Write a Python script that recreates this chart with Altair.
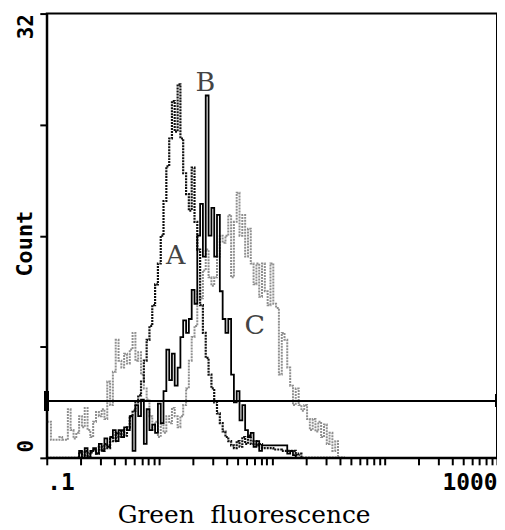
import altair as alt
import pandas as pd

# Histogram channels (green fluorescence, log spaced)
fluor = [
    0.1, 0.106, 0.112, 0.119, 0.126, 0.133, 0.141, 0.150, 0.158, 0.168,
    0.178, 0.188, 0.200, 0.211, 0.224, 0.237, 0.251, 0.266, 0.282, 0.299,
    0.316, 0.335, 0.355, 0.376, 0.398, 0.422, 0.447, 0.473, 0.501, 0.531,
    0.562, 0.596, 0.631, 0.668, 0.708, 0.750, 0.794, 0.841, 0.891, 0.944,
    1.00, 1.06, 1.12, 1.19, 1.26, 1.33, 1.41, 1.50, 1.58, 1.68,
    1.78, 1.88, 2.00, 2.11, 2.24, 2.37, 2.51, 2.66, 2.82, 2.99,
    3.16, 3.35, 3.55, 3.76, 3.98, 4.22, 4.47, 4.73, 5.01, 5.31,
    5.62, 5.96, 6.31, 6.68, 7.08, 7.50, 7.94, 8.41, 8.91, 9.44,
    10.0, 10.6, 11.2, 11.9, 12.6, 13.3, 14.1, 15.0, 15.8, 16.8,
    17.8, 18.8, 20.0, 21.1, 22.4, 23.7, 25.1, 26.6, 28.2, 29.9,
    31.6, 33.5, 35.5, 37.6, 39.8, 42.2, 44.7,
]

count_a = [
    0, 0, 0, 0, 0, 0, 0, 0, 0, 0,
    0, 0, 0.4, 0, 0.5, 0, 0.4, 0.6, 0.3, 0.8,
    0.5, 1.0, 0.7, 1.5, 1.2, 1.8, 1.5, 2.0, 1.6, 2.2,
    3.0, 3.4, 4.0, 4.5, 5.5, 7.0, 8.5, 9.5, 11.0, 12.5,
    14.0, 16.0, 18.5, 21.0, 23.0, 25.7, 23.5, 26.9, 23.0, 20.5,
    19.0, 17.8, 20.9, 17.0, 15.0, 11.0, 9.0, 7.2, 6.0, 5.0,
    4.0, 3.2, 2.5, 1.9, 1.5, 1.2, 0.9, 0.7, 1.2, 0.8,
    1.5, 1.0, 1.6, 1.0, 1.2, 0.9, 1.0, 0.7, 0.7, 0.7,
    0.7, 0.6, 0.6, 0.6, 0.5, 0.5, 0.5, 0.5, 0.5, 0.2,
    0.3, 0, 0, 0, 0, 0, 0, 0, 0, 0,
    0, 0, 0, 0, 0, 0, 0,
]

count_b = [
    0, 0, 0, 0, 0, 0, 0, 0, 0, 0,
    0, 0, 0.5, 0, 0.7, 0, 0.5, 0.7, 0.3, 1.0,
    0.5, 1.4, 0.8, 1.5, 2.0, 1.2, 2.0, 1.5, 2.2, 2.0,
    3.0, 0.5, 3.8, 3.0, 4.2, 1.0, 3.5, 2.0, 2.4, 1.8,
    3.9, 2.5, 4.8, 7.8, 5.6, 7.5, 5.2, 6.5, 8.7, 9.9,
    9.0, 10.0, 12.1, 11.1, 16.0, 18.3, 14.5, 26.1, 16.0, 18.0,
    14.5, 17.5, 12.0, 10.0, 9.0, 10.0, 6.0, 4.0, 4.8, 2.7,
    3.8, 2.0, 1.5, 1.8, 0.8, 1.2, 0.5, 0.9, 0.9, 0.9,
    0.9, 0.9, 0.9, 0.9, 0.9, 0.9, 0.3, 0.5, 0.2, 0,
    0, 0, 0, 0, 0, 0, 0, 0, 0, 0,
    0, 0, 0, 0, 0, 0, 0,
]

count_c = [
    2.6, 2.6, 1.3, 1.3, 1.3, 1.5, 1.3, 1.3, 3.5, 2.0,
    1.4, 1.8, 3.0, 2.2, 3.6, 2.0, 1.5, 2.6, 3.3, 3.0,
    3.5, 2.8, 5.5, 3.8, 6.2, 8.5, 7.0, 6.5, 7.5, 6.8,
    7.8, 9.0, 7.0, 7.6, 6.0, 5.0, 4.2, 3.0, 2.0, 2.6,
    1.5, 2.4, 1.8, 3.0, 2.5, 3.6, 3.0, 2.2, 3.0, 3.8,
    5.0, 7.0, 8.7, 9.5, 12.0, 11.5, 13.5, 15.0, 13.0, 12.4,
    13.0, 14.5, 16.0, 15.5, 16.0, 17.5, 13.0, 17.0, 19.1, 16.0,
    17.5, 14.5, 16.5, 14.0, 12.5, 14.0, 11.6, 14.0, 12.0, 11.0,
    14.0, 11.1, 10.8, 6.0, 9.0, 8.5, 6.5, 5.2, 3.8, 5.0,
    3.8, 3.4, 3.8, 2.8, 2.0, 2.8, 1.9, 2.6, 1.5, 2.4,
    1.0, 1.8, 0.5, 1.2, 0, 0, 0,
]

x_ticks = [0.1, 0.2, 0.3, 0.4, 0.5, 0.6, 0.7, 0.8, 0.9,
           1, 2, 3, 4, 5, 6, 7, 8, 9,
           10, 20, 30, 40, 50, 60, 70, 80, 90,
           100, 200, 300, 400, 500, 600, 700, 800, 900, 1000]
y_ticks = [0, 8, 16, 24, 32]

curve_names = ["A", "B", "C"]
label_x = [1.40, 2.57, 7.05]
label_y = [14.5, 27.0, 9.5]

gate_level = 4.1
gate_start, gate_end = 0.1, 1000
gate_cap_low, gate_cap_high = 3.4, 4.8

rows = []
for name, counts in zip(curve_names, [count_a, count_b, count_c]):
    for f, c in zip(fluor, counts):
        rows.append({"fluor": f, "count": c, "series": name})
hist = pd.DataFrame(rows)
labels = pd.DataFrame({"fluor": label_x, "count": label_y, "name": curve_names})

x_axis = alt.Axis(
    values=x_ticks,
    labelExpr="datum.value == 0.1 ? '.1' : (datum.value == 1000 ? '1000' : '')",
    labelFlush=True,
    labelOverlap=False,
    labelFont="DejaVu Sans Mono", labelFontWeight="bold", labelFontSize=23,
    labelColor="black", labelPadding=7,
    tickSize=7, tickWidth=2, tickColor="black",
    domainColor="black", domainWidth=2,
    grid=False, zindex=1,
    title="Green\u00a0 fluorescence",
    titleFont="DejaVu Serif", titleFontSize=25, titleFontWeight="normal",
    titleColor="black", titleAlign="center", titleBaseline="alphabetic",
    titleX=198, titleY=65,
)
y_axis = alt.Axis(
    values=y_ticks,
    labelExpr="datum.value == 0 ? '0' : (datum.value == 32 ? '32' : '')",
    labelAngle=270,
    labelAlign={"condition": {"test": "datum.value == 0", "value": "left"}, "value": "right"},
    labelOffset={"condition": {"test": "datum.value == 0", "value": -6}, "value": 0},
    labelBaseline="bottom",
    labelOverlap=False,
    labelFont="DejaVu Sans Mono", labelFontWeight="bold", labelFontSize=21,
    labelColor="black", labelPadding=3,
    tickSize=7, tickWidth=2, tickColor="black",
    domainColor="black", domainWidth=2,
    grid=False, zindex=1,
    title="Count",
    titleFont="DejaVu Sans Mono", titleFontSize=22, titleFontWeight="bold",
    titleColor="black", titleAngle=270, titleAlign="center", titleBaseline="middle",
    titleX=-22, titleY=231,
)

xs = alt.Scale(type="log", domain=[0.1, 1000], nice=False)
ys = alt.Scale(domain=[0, 32], nice=False)

base = alt.Chart(hist).encode(
    x=alt.X("fluor:Q", scale=xs, axis=x_axis),
    y=alt.Y("count:Q", scale=ys, axis=y_axis),
)

line_c = base.transform_filter("datum.series == 'C'").mark_line(
    interpolate="step", color="#8f8f8f", strokeWidth=2, strokeDash=[2, 1])
line_a = base.transform_filter("datum.series == 'A'").mark_line(
    interpolate="step", color="#111111", strokeWidth=2.2, strokeDash=[2, 1])
line_b = base.transform_filter("datum.series == 'B'").mark_line(
    interpolate="step", color="black", strokeWidth=1.8)

gate = alt.Chart(hist).mark_rule(color="black", strokeWidth=2).encode(
    x=alt.X(datum=gate_start, scale=xs),
    x2=alt.X2(datum=gate_end),
    y=alt.Y(datum=gate_level, scale=ys),
)
cap_l = alt.Chart(hist).mark_rule(color="black", strokeWidth=4).encode(
    x=alt.X(datum=gate_start, scale=xs),
    y=alt.Y(datum=gate_cap_low, scale=ys),
    y2=alt.Y2(datum=gate_cap_high),
)
cap_r = alt.Chart(hist).mark_rule(color="black", strokeWidth=3).encode(
    x=alt.X(datum=gate_end, scale=xs),
    y=alt.Y(datum=gate_cap_low + 0.3, scale=ys),
    y2=alt.Y2(datum=gate_cap_high - 0.2),
)

text = alt.Chart(labels).mark_text(
    font="DejaVu Serif", fontSize=27, color="#444444", align="center", baseline="middle"
).encode(
    x=alt.X("fluor:Q", scale=xs),
    y=alt.Y("count:Q", scale=ys),
    text="name:N",
)

chart = alt.layer(line_c, line_a, line_b, gate, cap_l, cap_r, text).properties(
    width=453, height=447,
    autosize=alt.AutoSizeParams(type="none"),
    padding={"left": 39, "top": 4, "right": 0, "bottom": 75},
    background="white",
).configure_view(stroke="black", strokeWidth=2)

chart.save("out.html", embed_options={"renderer": "svg", "actions": False})
